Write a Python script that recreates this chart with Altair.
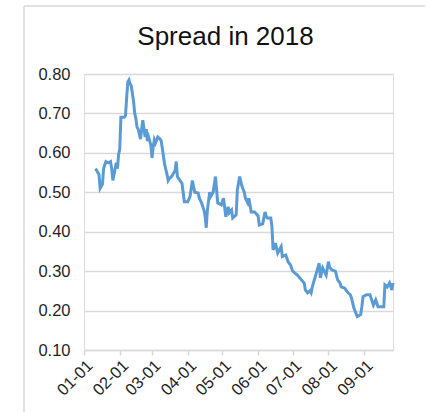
import altair as alt
import pandas as pd

title_text = "Spread in 2018"

dates = [
    "01-11", "01-12", "01-14", "01-15", "01-17", "01-18", "01-20", "01-22", "01-24", "01-25",
    "01-26", "01-27", "01-29", "01-30", "01-31", "02-01", "02-02", "02-05", "02-06", "02-07",
    "02-08", "02-09", "02-10", "02-11", "02-13", "02-14", "02-15", "02-16", "02-17", "02-19",
    "02-20", "02-21", "02-23", "02-24", "02-25", "02-26", "02-28", "03-01", "03-02", "03-03",
    "03-04", "03-06", "03-08", "03-09", "03-10", "03-12", "03-14", "03-15", "03-16", "03-18",
    "03-19", "03-21", "03-22", "03-23", "03-24", "03-27", "03-28", "03-29", "04-01", "04-03",
    "04-05", "04-07", "04-10", "04-11", "04-13", "04-15", "04-16", "04-17", "04-18", "04-20",
    "04-21", "04-23", "04-24", "04-25", "04-27", "04-29", "04-30", "05-02", "05-04", "05-06",
    "05-07", "05-09", "05-10", "05-13", "05-14", "05-16", "05-18", "05-20", "05-21", "05-23",
    "05-24", "05-26", "05-29", "06-01", "06-02", "06-05", "06-07", "06-08", "06-09", "06-12",
    "06-13", "06-14", "06-15", "06-16", "06-18", "06-21", "06-22", "06-25", "06-27", "06-29",
    "07-01", "07-03", "07-05", "07-07", "07-10", "07-11", "07-12", "07-14", "07-16", "07-17",
    "07-18", "07-20", "07-22", "07-24", "07-25", "07-27", "07-30", "08-01", "08-02", "08-04",
    "08-07", "08-09", "08-11", "08-12", "08-15", "08-18", "08-20", "08-21", "08-23", "08-26",
    "08-29", "08-30", "08-31", "09-03", "09-06", "09-09", "09-11", "09-13", "09-18", "09-19",
    "09-21", "09-23", "09-25", "09-26",
]
spread = [
    0.560, 0.555, 0.545, 0.510, 0.520, 0.560, 0.578, 0.575, 0.578, 0.560,
    0.530, 0.545, 0.575, 0.560, 0.595, 0.610, 0.690, 0.690, 0.695, 0.740,
    0.780, 0.785, 0.775, 0.770, 0.730, 0.700, 0.687, 0.665, 0.660, 0.635,
    0.660, 0.683, 0.640, 0.660, 0.630, 0.640, 0.620, 0.587, 0.615, 0.633,
    0.625, 0.640, 0.635, 0.630, 0.610, 0.570, 0.545, 0.530, 0.535, 0.540,
    0.545, 0.555, 0.578, 0.540, 0.535, 0.523, 0.500, 0.476, 0.476, 0.490,
    0.530, 0.500, 0.498, 0.485, 0.473, 0.455, 0.440, 0.410, 0.455, 0.500,
    0.490, 0.500, 0.520, 0.540, 0.473, 0.470, 0.468, 0.485, 0.438, 0.463,
    0.448, 0.455, 0.435, 0.443, 0.506, 0.540, 0.515, 0.500, 0.485, 0.473,
    0.485, 0.450, 0.450, 0.440, 0.417, 0.420, 0.450, 0.440, 0.435, 0.435,
    0.413, 0.354, 0.360, 0.371, 0.346, 0.362, 0.337, 0.341, 0.324, 0.316,
    0.300, 0.295, 0.290, 0.283, 0.273, 0.270, 0.252, 0.245, 0.250, 0.245,
    0.260, 0.280, 0.300, 0.320, 0.283, 0.308, 0.290, 0.324, 0.310, 0.303,
    0.300, 0.278, 0.270, 0.260, 0.257, 0.245, 0.240, 0.232, 0.207, 0.185,
    0.190, 0.210, 0.235, 0.240, 0.240, 0.214, 0.227, 0.210, 0.210, 0.265,
    0.260, 0.270, 0.252, 0.270,
]
y_ticks = [0.1, 0.2, 0.3, 0.4, 0.5, 0.6, 0.7, 0.8]
x_start = "2018-01-01T00:00:00"
x_end = "2018-09-26T00:00:00"

df = pd.DataFrame({
    "date": ["2018-" + d + "T00:00:00" for d in dates],
    "spread": spread,
})

FONT = "Liberation Sans"
GRAY = "#d9d9d9"
LABEL = "#1f1f1f"

line = alt.Chart(df).mark_line(color="#5B9BD5", strokeWidth=3).encode(
    x=alt.X(
        "date:T",
        scale=alt.Scale(domain=[x_start, x_end]),
        axis=alt.Axis(
            title=None,
            format="%m-%d",
            tickCount={"interval": "month", "step": 1},
            labelAngle=-45,
            labelFont=FONT,
            labelFontSize=16.5,
            labelColor=LABEL,
            domainColor=GRAY,
            domainWidth=1.5,
            tickColor=GRAY,
            tickWidth=1.5,
            tickSize=5,
            grid=False,
            labelPadding=2,
            labelOverlap=False,
        ),
    ),
    y=alt.Y(
        "spread:Q",
        scale=alt.Scale(domain=[0.1, 0.8], nice=False, zero=False),
        axis=alt.Axis(
            title=None,
            values=y_ticks,
            format=".2f",
            labelFont=FONT,
            labelFontSize=16.5,
            labelColor=LABEL,
            domain=False,
            ticks=False,
            tickSize=0,
            labelPadding=14,
            gridColor=GRAY,
            gridWidth=1.5,
        ),
    ),
)

frame_data = alt.Data(values=[{"k": 1}])
left_border = alt.Chart(frame_data).mark_rule(color=GRAY, strokeWidth=1.5).encode(
    x=alt.value(-60), y=alt.value(-68), y2=alt.value(340)
)
top_border = alt.Chart(frame_data).mark_rule(color=GRAY, strokeWidth=1.5).encode(
    x=alt.value(-60), x2=alt.value(341), y=alt.value(-68)
)

chart = alt.layer(left_border, top_border, line).properties(
    width=309,
    height=276,
    autosize=alt.AutoSizeParams(type="none"),
    padding={"left": 84, "top": 74, "right": 36, "bottom": 62},
    title=alt.TitleParams(
        text=title_text,
        font=FONT,
        fontSize=26,
        fontWeight="normal",
        color="#111111",
        anchor="middle",
        frame="group",
        baseline="alphabetic",
        dx=-13,
        offset=0,
        dy=66,
    ),
).configure_view(stroke=None).configure(background="white")

chart.save("out.html", embed_options={"renderer": "svg", "actions": False})
